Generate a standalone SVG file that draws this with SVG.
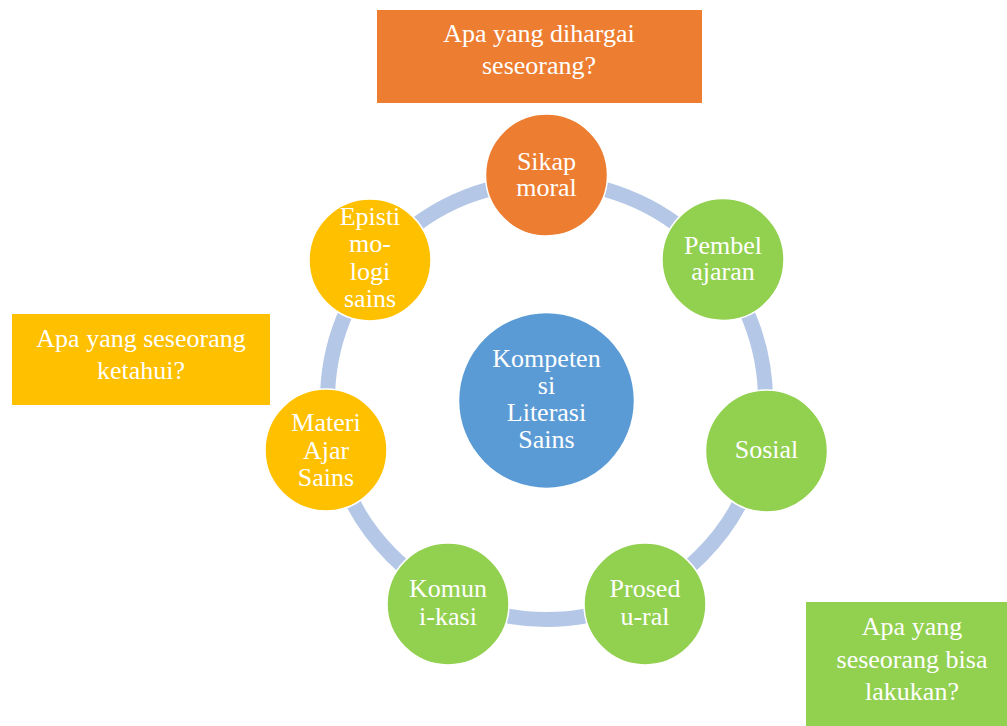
<svg xmlns="http://www.w3.org/2000/svg" width="1007" height="726" viewBox="0 0 1007 726">
<style>
text{font-family:"Liberation Serif","Times New Roman",serif;font-size:26px;fill:#fff;text-anchor:middle}
.n{stroke:#fff;stroke-width:1.5}
.o{fill:#ED7D31}.y{fill:#FFC000}.g{fill:#92D050}.b{fill:#5B9BD5}
</style>
<rect width="1007" height="726" fill="#fff"/>
<g id="connectors">
<circle cx="546.5" cy="400.5" r="219" fill="none" stroke="#B4C7E7" stroke-width="15"/>
</g>
<g id="box-top"><rect class="o" x="377" y="10" width="325" height="93"/>
<text x="539" y="42">Apa yang dihargai</text><text x="539" y="74">seseorang?</text></g>
<g id="box-left"><rect class="y" x="12" y="314" width="258" height="91"/>
<text x="141" y="347">Apa yang seseorang</text><text x="141" y="379">ketahui?</text></g>
<g id="box-right"><rect class="g" x="806" y="602" width="201" height="124"/>
<text x="912" y="635">Apa yang</text><text x="912" y="668">seseorang bisa</text><text x="912" y="700">lakukan?</text></g>
<g id="center"><circle class="n b" cx="546.5" cy="400.5" r="88"/>
<text x="546.5" y="367">Kompeten</text><text x="546.5" y="394">si</text><text x="546.5" y="421">Literasi</text><text x="546.5" y="448">Sains</text></g>
<g id="sikap"><circle class="n o" cx="546.5" cy="175" r="61"/>
<text x="546.5" y="170">Sikap</text><text x="546.5" y="196">moral</text></g>
<g id="pembelajaran"><circle class="n g" cx="723" cy="259.5" r="61"/>
<text x="723" y="254">Pembel</text><text x="723" y="280">ajaran</text></g>
<g id="sosial"><circle class="n g" cx="766.5" cy="451" r="61"/>
<text x="766.5" y="458">Sosial</text></g>
<g id="prosedural"><circle class="n g" cx="645" cy="604" r="61"/>
<text x="645" y="597">Prosed</text><text x="645" y="625">u-ral</text></g>
<g id="komunikasi"><circle class="n g" cx="448" cy="604" r="61"/>
<text x="448" y="597">Komun</text><text x="448" y="625">i-kasi</text></g>
<g id="materi"><circle class="n y" cx="326" cy="450" r="61"/>
<text x="326" y="431">Materi</text><text x="326" y="459">Ajar</text><text x="326" y="486">Sains</text></g>
<g id="epistimologi"><circle class="n y" cx="370" cy="260" r="61"/>
<text x="370" y="225">Episti</text><text x="370" y="252">mo-</text><text x="370" y="280">logi</text><text x="370" y="307">sains</text></g>
</svg>
